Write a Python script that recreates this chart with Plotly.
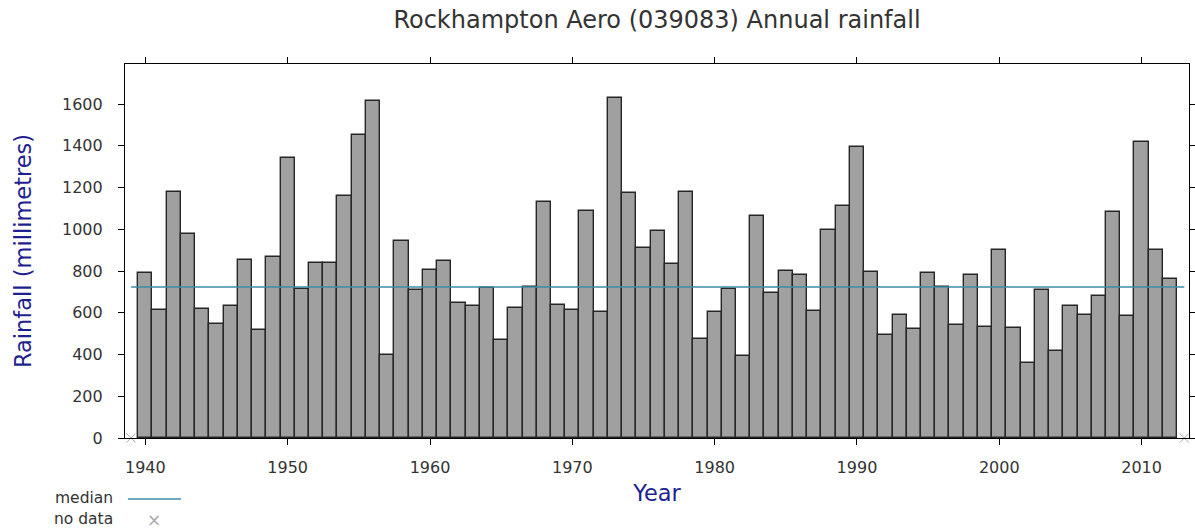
import plotly.graph_objects as go

years = list(range(1940, 2013))
rainfall = [
    793, 615, 1177, 979, 619, 546, 632, 854, 516, 867,
    1340, 714, 837, 837, 1159, 1450, 1617, 397, 942, 707,
    806, 849, 645, 632, 720, 471, 621, 725, 1129, 639,
    615, 1086, 602, 1630, 1172, 912, 993, 833, 1178, 472,
    602, 714, 393, 1062, 695, 800, 782, 608, 999, 1110,
    1395, 795, 492, 589, 522, 789, 725, 540, 782, 533,
    899, 528, 359, 707, 415, 632, 589, 682, 1084, 583,
    1419, 899, 762,
]
median_value = 724
median_years = [1939, 2013]
no_data_years = [1939, 2013]
no_data_values = [0, 0]
x_ticks = [1940, 1950, 1960, 1970, 1980, 1990, 2000, 2010]
y_ticks = [0, 200, 400, 600, 800, 1000, 1200, 1400, 1600]

FONT = "DejaVu Sans"
NAVY = "#1f1f8f"
TXT = "#333333"
MED = "#3d8ba6"

fig = go.Figure()
fig.add_trace(go.Bar(
    x=years, y=rainfall, width=1.0,
    marker=dict(color="#a0a0a0", line=dict(color="#262626", width=1.4)),
    showlegend=False,
))
fig.add_trace(go.Scatter(
    x=median_years, y=[median_value, median_value], mode="lines",
    line=dict(color=MED, width=1.5), showlegend=False,
))
fig.add_trace(go.Scatter(
    x=no_data_years, y=no_data_values, mode="markers", cliponaxis=False,
    marker=dict(symbol="x-thin", size=9, line=dict(width=1, color="#aaaaaa")),
    showlegend=False,
))

fig.update_layout(
    width=1195, height=530,
    margin=dict(l=125, r=6, t=64, b=92, autoexpand=False),
    paper_bgcolor="white", plot_bgcolor="white",
    font=dict(family=FONT, color=TXT, size=16),
    title=dict(text="Rockhampton Aero (039083) Annual rainfall",
               x=0.5, xref="paper", y=1 - 20 / 530, yref="container",
               yanchor="middle", font=dict(family=FONT, size=24, color=TXT)),
    bargap=0,
)
fig.update_xaxes(
    range=[1938.57, 2013.33], tickvals=x_ticks, ticks="outside", ticklen=6,
    tickcolor="black", showline=True, linecolor="black", linewidth=1.2,
    mirror="ticks", showgrid=False, zeroline=False, ticklabelstandoff=9,
    automargin=False,
    tickfont=dict(family=FONT, size=16, color=TXT),
    title=dict(text="Year", font=dict(family=FONT, size=22.5, color=NAVY), standoff=8),
)
fig.update_yaxes(
    range=[0, 1792], tickvals=y_ticks, ticks="outside", ticklen=6,
    tickcolor="black", showline=True, linecolor="black", linewidth=1.2,
    mirror="ticks", showgrid=False, zeroline=False, ticklabelstandoff=12,
    automargin=False,
    tickfont=dict(family=FONT, size=16, color=TXT),
    title=dict(text="Rainfall (millimetres)", font=dict(family=FONT, size=22.5, color=NAVY), standoff=24),
)

# legend (text left of symbol)
def px_x(px):
    return (px - 125) / 1064

def px_y(py):
    return (438 - py) / 374

fig.add_annotation(text="median", x=px_x(115), y=px_y(498), xref="paper", yref="paper",
                   xanchor="right", yanchor="middle", showarrow=False,
                   font=dict(family=FONT, size=15.5, color=TXT))
fig.add_annotation(text="no data", x=px_x(115), y=px_y(519), xref="paper", yref="paper",
                   xanchor="right", yanchor="middle", showarrow=False,
                   font=dict(family=FONT, size=15.5, color=TXT))
fig.add_shape(type="line", xref="paper", yref="paper",
              x0=px_x(128), x1=px_x(181), y0=px_y(499), y1=px_y(499),
              line=dict(color=MED, width=1.5))
fig.add_annotation(text="×", x=px_x(154), y=px_y(520), xref="paper", yref="paper",
                   xanchor="center", yanchor="middle", showarrow=False,
                   font=dict(family=FONT, size=17, color="#aaaaaa"))

fig.write_html("out.html", config={"displayModeBar": False},
               post_script="document.body.style.margin='0px';document.body.style.overflow='hidden';")
